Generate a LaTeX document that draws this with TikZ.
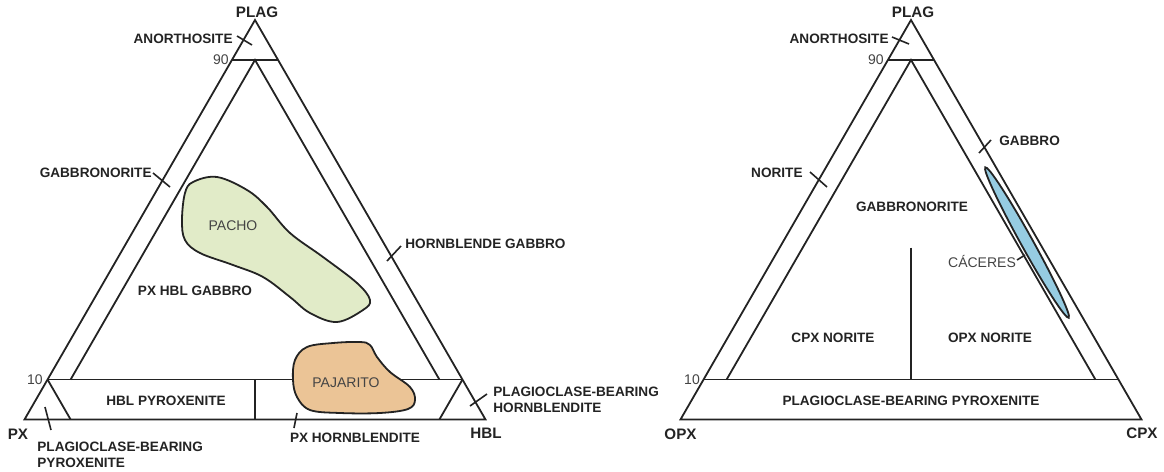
\documentclass[tikz,border=0pt]{standalone}
\usepackage{fontspec}
\setmainfont{Liberation Sans}
\definecolor{inkgray}{HTML}{232323}
\definecolor{pachogreen}{HTML}{E1EBC8}
\definecolor{pajaritotan}{HTML}{EBC496}
\definecolor{caceresblue}{HTML}{96CCE2}
\tikzset{
  trline/.style={draw=inkgray, line width=0.9pt},
  tickline/.style={draw=inkgray, line width=0.8pt},
  blobline/.style={draw=inkgray, line width=0.9pt},
  fieldlbl/.style={font=\bfseries\fontsize{6.8}{8}\selectfont, text=inkgray, inner sep=0pt, text height=4.9pt, text depth=0pt},
  twolbl/.style={font=\bfseries\fontsize{6.8}{8}\selectfont, text=inkgray, inner sep=0pt, align=left},
  apexlbl/.style={font=\bfseries\fontsize{7.6}{9}\selectfont, text=inkgray, inner sep=0pt, text height=5.4pt, text depth=0pt},
  samplelbl/.style={font=\fontsize{7}{8}\selectfont, text=inkgray!85, inner sep=0pt, text height=5pt, text depth=0pt},
  numlbl/.style={font=\fontsize{7}{8}\selectfont, text=inkgray!85, inner sep=0pt, text height=5pt, text depth=0pt},
}

\begin{document}
\begin{tikzpicture}[x=0.5pt, y=-0.5pt]
\useasboundingbox (0,0) rectangle (1164,472);

\coordinate (pl) at (255,20);
\coordinate (px) at (24.5,419.5);
\coordinate (hb) at (485.5,419.5);

\draw[trline] (pl) -- (px) -- (hb) -- cycle;
\draw[trline] (barycentric cs:pl=.9,px=.1) -- (barycentric cs:pl=.9,hb=.1);
\draw[trline] (barycentric cs:pl=.1,px=.9) -- (barycentric cs:pl=.1,hb=.9);
\draw[trline] (barycentric cs:pl=.1,px=.85,hb=.05) -- (barycentric cs:pl=.9,px=.05,hb=.05)
  -- (barycentric cs:pl=.1,px=.05,hb=.85);
\draw[trline] (barycentric cs:pl=.1,px=.9) -- (barycentric cs:px=.9,hb=.1);
\draw[trline] (barycentric cs:pl=.1,hb=.9) -- (barycentric cs:px=.1,hb=.9);
\draw[trline] (barycentric cs:pl=.1,px=.45,hb=.45) -- (barycentric cs:px=.5,hb=.5);

\draw[blobline, fill=pachogreen] plot[smooth cycle, tension=0.6] coordinates {
  (193,182) (217,177) (247,190) (267,207) (290,233) (323,257) (357,283) (370,300)
  (363,310) (337,322) (310,313) (290,297) (263,277) (233,265) (200,253) (185,240)
  (182,220) (185,193)};
\draw[blobline, fill=pajaritotan] plot[smooth cycle, tension=0.6] coordinates {
  (295,360) (307,347) (333,343) (360,342) (370,345) (377,357) (390,372) (410,387)
  (415,400) (408,409) (380,413) (340,413) (310,410) (297,397) (293,380)};

\node[apexlbl] (plagL) at (257,12) {PLAG};
\node[apexlbl] (pxL) at (18,434) {PX};
\node[apexlbl] (hblL) at (486,433) {HBL};
\node[numlbl, anchor=east] (ninetyL) at (229,59) {90};
\node[numlbl] (tenL) at (35,379) {10};

\node[fieldlbl, anchor=east] (anoL) at (233,39) {ANORTHOSITE};
\node[fieldlbl, anchor=east] (gabnL) at (152,173) {GABBRONORITE};
\node[fieldlbl, anchor=west] (hbgL) at (405,244) {HORNBLENDE GABBRO};
\node[fieldlbl] (pxhbgL) at (195,291) {PX HBL GABBRO};
\node[fieldlbl] (hbpxL) at (166,401) {HBL PYROXENITE};
\node[fieldlbl] (pxhbdL) at (355,438) {PX HORNBLENDITE};
\node[twolbl, anchor=north west] (pbpxL) at (37,442) {PLAGIOCLASE-BEARING\\PYROXENITE};
\node[twolbl, anchor=north west] (pbhbL) at (493,387) {PLAGIOCLASE-BEARING\\HORNBLENDITE};
\node[samplelbl] (pacho) at (233,225) {PACHO};
\node[samplelbl] (pajarito) at (346,382) {PAJARITO};

\coordinate (anoL1) at (237,36);   \coordinate (anoL2) at (252,45);
\coordinate (gabnL1) at (153,173); \coordinate (gabnL2) at (170,187);
\coordinate (hbgL1) at (401,246);  \coordinate (hbgL2) at (387,261);
\coordinate (pbhbL1) at (487,394); \coordinate (pbhbL2) at (470,406);
\coordinate (pxhbdL1) at (297,413); \coordinate (pxhbdL2) at (294,428);
\coordinate (pbpxL1) at (45,407);  \coordinate (pbpxL2) at (51,430);
\draw[tickline] (anoL1) -- (anoL2);
\draw[tickline] (gabnL1) -- (gabnL2);
\draw[tickline] (hbgL1) -- (hbgL2);
\draw[tickline] (pbhbL1) -- (pbhbL2);
\draw[tickline] (pxhbdL1) -- (pxhbdL2);
\draw[tickline] (pbpxL1) -- (pbpxL2);

\coordinate (pr) at (911,20);
\coordinate (op) at (680.5,419.5);
\coordinate (cp) at (1141.5,419.5);

\draw[trline] (pr) -- (op) -- (cp) -- cycle;
\draw[trline] (barycentric cs:pr=.9,op=.1) -- (barycentric cs:pr=.9,cp=.1);
\draw[trline] (barycentric cs:pr=.1,op=.9) -- (barycentric cs:pr=.1,cp=.9);
\draw[trline] (barycentric cs:pr=.1,op=.85,cp=.05) -- (barycentric cs:pr=.9,op=.05,cp=.05)
  -- (barycentric cs:pr=.1,op=.05,cp=.85);
\draw[trline] (barycentric cs:pr=.43,op=.285,cp=.285) -- (barycentric cs:pr=.1,op=.45,cp=.45);

\coordinate (cac) at (1027,242.5);
\draw[blobline, fill=caceresblue, rotate around={-61:(cac)}] (cac) ellipse [x radius=43pt, y radius=3pt];

\node[apexlbl] (plagR) at (913,12) {PLAG};
\node[apexlbl] (opxR) at (680.5,434) {OPX};
\node[apexlbl] (cpxR) at (1142,433) {CPX};
\node[numlbl, anchor=east] (ninetyR) at (884,59) {90};
\node[numlbl] (tenR) at (692,379) {10};

\node[fieldlbl, anchor=east] (anoR) at (889,39) {ANORTHOSITE};
\node[fieldlbl, anchor=east] (norR) at (803,173) {NORITE};
\node[fieldlbl, anchor=west] (gabR) at (999,141) {GABBRO};
\node[fieldlbl] (gabnR) at (912,207) {GABBRONORITE};
\node[fieldlbl] (cpxnR) at (833,338) {CPX NORITE};
\node[fieldlbl] (opxnR) at (990,338) {OPX NORITE};
\node[fieldlbl] (pbpxR) at (911,401) {PLAGIOCLASE-BEARING PYROXENITE};
\node[samplelbl] (caceres) at (982,262) {CÁCERES};

\coordinate (anoR1) at (892,37);   \coordinate (anoR2) at (909,44);
\coordinate (norR1) at (810,172);  \coordinate (norR2) at (827,187);
\coordinate (gabR1) at (991,140);  \coordinate (gabR2) at (979,153);
\coordinate (cacR1) at (1017,260); \coordinate (cacR2) at (1025,255);
\draw[tickline] (anoR1) -- (anoR2);
\draw[tickline] (norR1) -- (norR2);
\draw[tickline] (gabR1) -- (gabR2);
\draw[tickline] (cacR1) -- (cacR2);
\end{tikzpicture}
\end{document}
